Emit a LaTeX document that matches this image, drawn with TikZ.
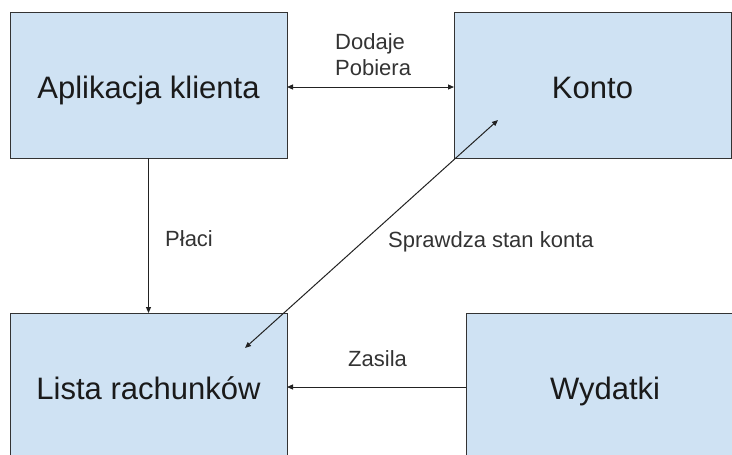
\documentclass[tikz,border=0pt]{standalone}
\usepackage{fontspec}
\setmainfont{Liberation Sans}
\usetikzlibrary{arrows.meta}
\definecolor{boxfill}{HTML}{CFE2F3}
\definecolor{boxline}{HTML}{333333}
\definecolor{boxtext}{HTML}{1A1A1A}
\definecolor{labtext}{HTML}{333333}
\definecolor{connline}{HTML}{222222}
\tikzset{
  entity/.style={draw=boxline, fill=boxfill, line width=1pt, minimum height=146pt,
    inner sep=0pt, outer sep=0pt, text=boxtext, font=\fontsize{31}{36}\selectfont,
    text height=26pt, text depth=0pt},
  lab/.style={anchor=base west, inner sep=0pt, text=labtext, font=\fontsize{22}{26}\selectfont},
  conn/.style={draw=connline, line width=1pt, arrows={-Triangle[length=6pt,width=5pt]}},
  biconn/.style={draw=connline, line width=1pt, arrows={Triangle[length=6pt,width=5pt]-Triangle[length=6pt,width=5pt]}}
}
\begin{document}
\begin{tikzpicture}[x=1pt,y=-1pt]
\useasboundingbox (0,0) rectangle (732,455);
\begin{scope}
\clip (0,0) rectangle (732,455);
\node[entity, minimum width=277pt] (A) at (148.5,85) {Aplikacja klienta};
\node[entity, minimum width=277pt] (K) at (592.5,85) {Konto};
\node[entity, minimum width=277pt] (L) at (148.5,386) {Lista rachunków};
\node[entity, minimum width=278pt] (W) at (605,386) {Wydatki};

\coordinate (dL) at (245,348);
\coordinate (dK) at (498,120);

\draw[biconn] ([yshift=-2pt]A.east) -- ([yshift=-2pt]K.west);
\draw[conn] (A.south) -- (L.north);
\draw[conn] ([yshift=-1pt]W.west) -- ([yshift=-1pt]L.east);
\draw[biconn] (dL) -- (dK);

\node[lab] (l1) at (335,49) {Dodaje};
\node[lab] (l2) at (335,75) {Pobiera};
\node[lab] (l3) at (165,246) {Płaci};
\node[lab] (l4) at (388,247) {Sprawdza stan konta};
\node[lab] (l5) at (348,366) {Zasila};
\end{scope}
\end{tikzpicture}
\end{document}
